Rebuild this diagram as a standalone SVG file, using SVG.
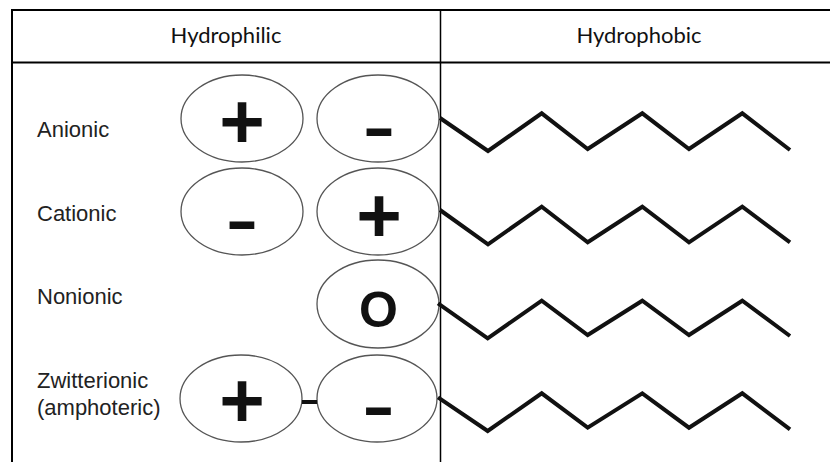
<svg xmlns="http://www.w3.org/2000/svg" width="830" height="462" viewBox="0 0 830 462">
  <style>
    .rule { stroke: #000; fill: none; }
    .head { font-family: Lato, "Open Sans", sans-serif; font-size: 22px; fill: #111; text-anchor: middle; }
    .label { font-family: "Liberation Sans", Arial, sans-serif; font-size: 22px; fill: #222; }
    .head-ell { fill: #fff; stroke: #555; stroke-width: 1.3; }
    .sign { font-family: "Liberation Sans", Arial, sans-serif; font-weight: bold; font-size: 78px; fill: #111; text-anchor: middle; }
    .zero { font-family: "Liberation Sans", Arial, sans-serif; font-weight: bold; font-size: 50px; fill: #111; text-anchor: middle; }
    .tail { fill: none; stroke: #111; stroke-width: 4; stroke-linejoin: miter; stroke-linecap: butt; }
  </style>

  <!-- table frame -->
  <g id="table">
    <line class="rule" x1="12" y1="10" x2="830" y2="10" stroke-width="2"/>
    <line class="rule" x1="12" y1="62.5" x2="830" y2="62.5" stroke-width="2"/>
    <line class="rule" x1="12" y1="9" x2="12" y2="462" stroke-width="2"/>
    <line class="rule" x1="440.5" y1="9" x2="440.5" y2="462" stroke-width="1.5"/>
    <text class="head" x="226" y="43">Hydrophilic</text>
    <text class="head" x="639" y="43">Hydrophobic</text>
  </g>

  <!-- anionic -->
  <g id="anionic">
    <text class="label" x="37" y="137">Anionic</text>
    <ellipse class="head-ell" cx="242" cy="118.5" rx="61" ry="43.5"/>
    <ellipse class="head-ell" cx="378" cy="118.5" rx="61" ry="43.5"/>
    <text class="sign" x="242" y="148">+</text>
    <text class="sign" transform="translate(379 149) scale(1.25 0.8)" x="0" y="0">-</text>
  </g>

  <!-- cationic -->
  <g id="cationic">
    <text class="label" x="37" y="221">Cationic</text>
    <ellipse class="head-ell" cx="242" cy="211.5" rx="61" ry="43.5"/>
    <ellipse class="head-ell" cx="378" cy="211.5" rx="61" ry="43.5"/>
    <text class="sign" transform="translate(242 242) scale(1.25 0.8)" x="0" y="0">-</text>
    <text class="sign" x="379" y="242">+</text>
  </g>

  <!-- nonionic -->
  <g id="nonionic">
    <text class="label" x="37" y="304">Nonionic</text>
    <ellipse class="head-ell" cx="378" cy="304" rx="61" ry="44"/>
    <text class="zero" x="378.5" y="327">O</text>
  </g>

  <!-- zwitterionic -->
  <g id="zwitterionic">
    <text class="label" x="37" y="388">Zwitterionic</text>
    <text class="label" x="37" y="415">(amphoteric)</text>
    <ellipse class="head-ell" cx="241" cy="398.5" rx="61" ry="43.5"/>
    <ellipse class="head-ell" cx="377" cy="398.5" rx="60" ry="43.5"/>
    <text class="sign" x="242" y="427">+</text>
    <text class="sign" transform="translate(378.5 428) scale(1.25 0.8)" x="0" y="0">-</text>
  </g>

  <!-- hydrophobic tails -->
  <g id="tails">
    <polyline class="tail" points="440,118 488,151 541.7,113.3 587.7,149 642.3,113.3 689,149 742.3,113.3 790,150"/>
    <polyline class="tail" points="440,210 488,244.3 541.7,206.7 587.7,242.3 642.3,206.7 689,242.3 742.3,206.7 790,242.3"/>
    <polyline class="tail" points="438,303.3 487.7,338.3 541.7,300.7 587.7,335 642.3,300.7 689,335 742.3,300.7 790,336"/>
    <polyline class="tail" points="438,397.3 487.7,431 541.7,393.3 587.7,427.7 642.3,393.3 689,427.7 742.3,393.3 790,429.3"/>
  </g>

  <!-- bond between the two zwitterionic heads -->
  <g id="connectors">
    <line x1="302" y1="402" x2="317" y2="402" stroke="#111" stroke-width="4"/>
  </g>
</svg>
